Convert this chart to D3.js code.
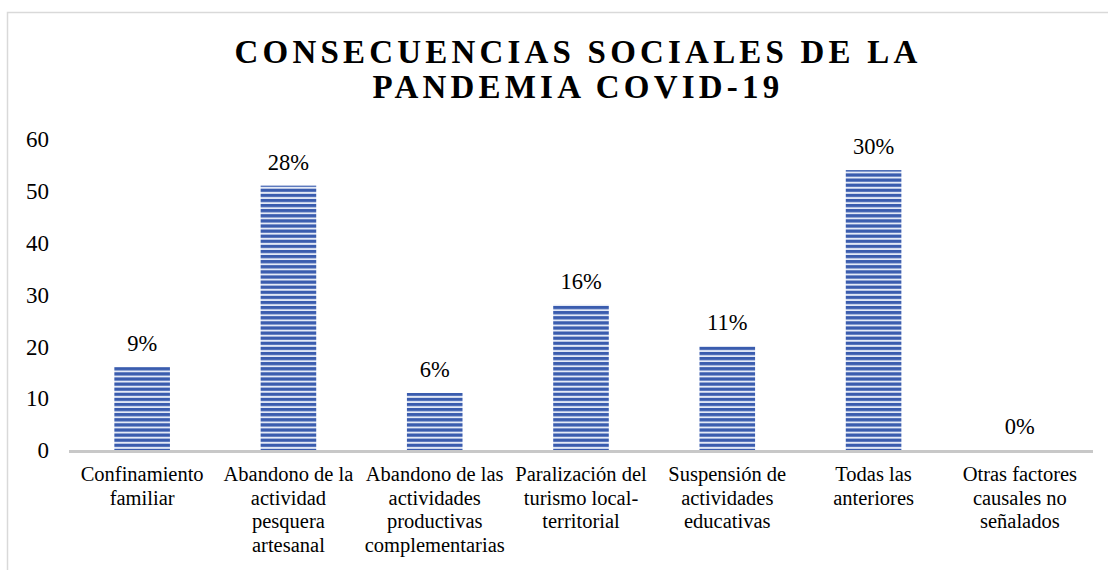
<!DOCTYPE html>
<html>
<head>
<meta charset="utf-8">
<script src="https://cdn.jsdelivr.net/npm/d3@7"></script>
<style>
  body { margin: 0; background: #fff; }
  svg, svg text { font-family: "Liberation Serif", "Times New Roman", "DejaVu Serif", serif; }
</style>
</head>
<body>
<svg id="chart"></svg>
<script>
let width = 1108,
    height = 570;

let serif = '"Liberation Serif", "Times New Roman", serif';

// data
let categories = [
    ["Confinamiento", "familiar"],
    ["Abandono de la", "actividad", "pesquera", "artesanal"],
    ["Abandono de las", "actividades", "productivas", "complementarias"],
    ["Paralización del", "turismo local-", "territorial"],
    ["Suspensión de", "actividades", "educativas"],
    ["Todas las", "anteriores"],
    ["Otras factores", "causales no", "señalados"]
];
let values = [16, 51, 11, 28, 20, 54, 0];
let percentLabels = ["9%", "28%", "6%", "16%", "11%", "30%", "0%"];
let yTicks = [0, 10, 20, 30, 40, 50, 60];
let titleLines = ["CONSECUENCIAS SOCIALES DE LA", "PANDEMIA COVID-19"];

let margin = {top: 139, right: 15, bottom: 120, left: 69};

let svg = d3.select('#chart')
    .attr('width', width)
    .attr('height', height)
    .style('font-family', serif);

// striped fill like the original
let defs = svg.append('defs');
let pat = defs.append('pattern')
    .attr('id', 'stripes')
    .attr('patternUnits', 'userSpaceOnUse')
    .attr('width', 10)
    .attr('height', 5.1);
pat.append('rect').attr('width', 10).attr('height', 5.1).style('fill', '#e4eaf7');
pat.append('rect').attr('y', 0).attr('width', 10).attr('height', 3.2).style('fill', '#3a5cae');

// chart frame
svg.append('rect')
    .attr('x', 7.5)
    .attr('y', 12.5)
    .attr('width', width + 10)
    .attr('height', height + 10)
    .style('fill', 'none')
    .style('stroke', '#d9d9d9')
    .style('stroke-width', 1.5);

let x = d3.scaleBand()
    .domain(d3.range(categories.length))
    .range([margin.left, width - margin.right])
    .paddingInner(0.62)
    .paddingOuter(0.31);

let y = d3.scaleLinear()
    .domain([0, 60])
    .range([height - margin.bottom, margin.top]);

// title
svg.append('text')
    .attr('text-anchor', 'middle')
    .style('font-family', serif)
    .style('font-size', '33px')
    .style('font-weight', 'bold')
    .style('letter-spacing', '4.2px')
    .selectAll('tspan')
    .data(titleLines)
    .enter()
    .append('tspan')
    .attr('x', 578)
    .attr('y', function(d, i) { return 63 + i * 35; })
    .text(function(d) { return d; });

// y axis
let yAxis = svg.append('g')
    .attr('transform', 'translate(49,0)')
    .call(d3.axisLeft(y).tickValues(yTicks).tickSize(0).tickPadding(0));
yAxis.select('.domain').remove();
yAxis.selectAll('text')
    .attr('dy', '0.34em')
    .style('font-size', '23px')
    .style('fill', '#000')
    .style('font-family', serif);

// bars
svg.selectAll('rect.bar')
    .data(values)
    .enter()
    .append('rect')
    .attr('class', 'bar')
    .attr('x', function(d, i) { return x(i); })
    .attr('y', function(d) { return y(d); })
    .attr('width', x.bandwidth())
    .attr('height', function(d) { return y(0) - y(d); })
    .style('fill', 'url(#stripes)');

// value labels
svg.selectAll('text.pct')
    .data(values)
    .enter()
    .append('text')
    .attr('class', 'pct')
    .attr('x', function(d, i) { return x(i) + x.bandwidth() / 2; })
    .attr('y', function(d) { return y(d) - 16; })
    .attr('text-anchor', 'middle')
    .style('font-family', serif)
    .style('font-size', '22.5px')
    .text(function(d, i) { return percentLabels[i]; });

// x axis baseline
svg.append('line')
    .attr('x1', margin.left)
    .attr('x2', width - margin.right)
    .attr('y1', y(0) + 1.5)
    .attr('y2', y(0) + 1.5)
    .style('stroke', '#c8c8c8')
    .style('stroke-width', 3);

// category labels
let cat = svg.selectAll('text.cat')
    .data(categories)
    .enter()
    .append('text')
    .attr('class', 'cat')
    .attr('text-anchor', 'middle')
    .style('font-family', serif)
    .style('font-size', '20.5px');

cat.selectAll('tspan')
    .data(function(d, i) { return d.map(function(s) { return {s: s, i: i}; }); })
    .enter()
    .append('tspan')
    .attr('x', function(d) { return x(d.i) + x.bandwidth() / 2; })
    .attr('y', function(d, j) { return y(0) + 31 + j * 23.5; })
    .text(function(d) { return d.s; });
</script>
</body>
</html>
